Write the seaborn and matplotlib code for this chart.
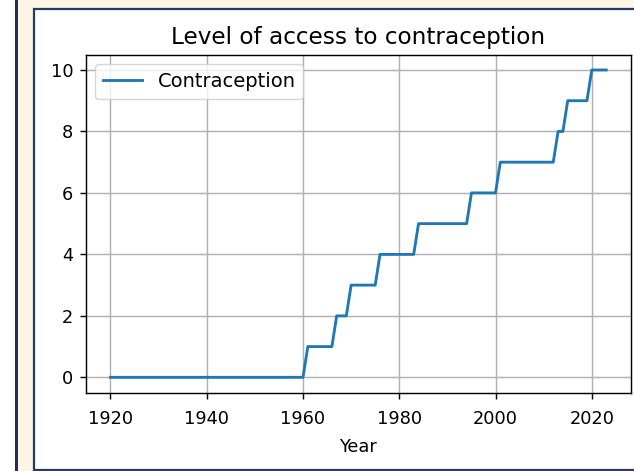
import numpy as np
import pandas as pd
import matplotlib
matplotlib.use("Agg")
import matplotlib.pyplot as plt
import seaborn as sns
from matplotlib.patches import Rectangle

# Data: year at which each access level begins
change_years = [1920, 1961, 1967, 1970, 1976, 1984, 1995, 2001, 2013, 2015, 2020]
levels = [0, 1, 2, 3, 4, 5, 6, 7, 8, 9, 10]
first_year, last_year = 1920, 2023

years = np.arange(first_year, last_year + 1)
idx = np.searchsorted(change_years, years, side="right") - 1
values = np.array(levels)[idx]
df = pd.DataFrame({"Year": years, "Contraception": values})

S = 1.28
W, H = 634, 471
plt.rcParams["font.family"] = ["DejaVu Sans"]

fig = plt.figure(figsize=(W / 100, H / 100), dpi=100)
fig.patch.set_facecolor("white")

def px_rect(x0, y0, x1, y1, **kw):
    # pixel coords with y measured from top
    return Rectangle((x0 / W, 1 - y1 / H), (x1 - x0) / W, (y1 - y0) / H,
                     transform=fig.transFigure, **kw)

fig.add_artist(px_rect(17, -5, 640, 480, facecolor="#fdf6e6", edgecolor="none", zorder=0))
fig.add_artist(px_rect(15, -5, 17.5, 480, facecolor="#1f2f55", edgecolor="none", zorder=1))
fig.add_artist(px_rect(33.5, 8.5, 660, 469.5, facecolor="white", edgecolor="#2a3a5e",
                       linewidth=1.6, zorder=1))

ax = fig.add_axes([85.7 / W, 1 - 392.7 / H, (631 - 85.7) / W, (392.7 - 54.6) / H])
ax.set_zorder(5)
ax.set_facecolor("white")

sns.lineplot(data=df, x="Year", y="Contraception", ax=ax, label="Contraception",
             color="#1f77b4", linewidth=1.6 * S)

ax.set_title("Level of access to contraception", fontsize=16.7, pad=6 * S)
ax.set_xlabel("Year", fontsize=12.8, labelpad=7.3)
ax.set_ylabel("")
ax.set_xticks([1920, 1940, 1960, 1980, 2000, 2020])
ax.set_yticks([0, 2, 4, 6, 8, 10])
ax.tick_params(labelsize=12.8, length=3.5 * S, width=0.8 * S, pad=3.5 * S)
ax.tick_params(axis="x", pad=8.0)
ax.grid(True, color="#b0b0b0", linewidth=0.8 * S)
ax.set_axisbelow(True)
for sp in ax.spines.values():
    sp.set_linewidth(0.8 * S)
    sp.set_color("black")
ax.set_xlim(1914.85, 2028.15)
ax.set_ylim(-0.5, 10.5)
leg = ax.legend(loc="upper left", fontsize=14, framealpha=0.8, edgecolor="0.8",
                fancybox=True)
leg.get_frame().set_linewidth(0.8 * S)

fig.savefig("out.png", dpi=100)
